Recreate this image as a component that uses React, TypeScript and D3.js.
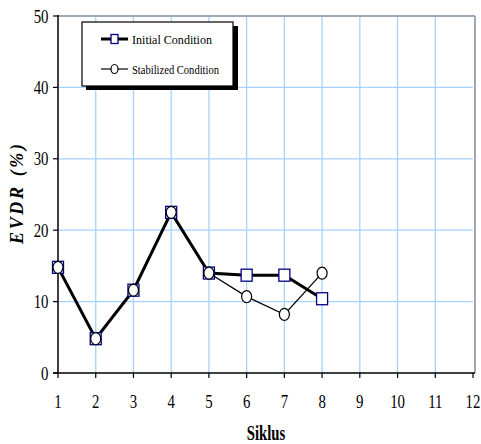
import React from "react";
import * as d3 from "d3";

const cycles = [1, 2, 3, 4, 5, 6, 7, 8];
const initialCondition = [14.8, 4.8, 11.6, 22.5, 14.0, 13.7, 13.7, 10.4];
const stabilizedCondition = [14.8, 4.8, 11.6, 22.5, 14.0, 10.7, 8.2, 14.0];
const xTicks = [1, 2, 3, 4, 5, 6, 7, 8, 9, 10, 11, 12];
const yTicks = [0, 10, 20, 30, 40, 50];
const seriesNames = ["Initial Condition", "Stabilized Condition"];

export default function App() {
  const W = 481, H = 444;
  const x = d3.scaleLinear().domain([1, 12]).range([58, 473]);
  const y = d3.scaleLinear().domain([0, 50]).range([373, 16]);
  const line = d3
    .line<number>()
    .x((_, i) => x(cycles[i]))
    .y((d) => y(d));
  const font = "Liberation Serif, Times New Roman, serif";
  const grid = "#a6d2ff";
  const sx = 0.78;

  const Square = ({ cx, cy }: { cx: number; cy: number }) => (
    <rect x={cx - 5.5} y={cy - 6} width={11} height={12} fill="white" stroke="#000080" strokeWidth={1.3} />
  );
  const Circle = ({ cx, cy }: { cx: number; cy: number }) => (
    <ellipse cx={cx} cy={cy} rx={5} ry={6} fill="white" stroke="black" strokeWidth={1.2} />
  );

  return (
    <svg width={W} height={H} style={{ position: "absolute", left: 0, top: 0, background: "white" }}>
      {yTicks.slice(1, -1).map((t) => (
        <line key={"gy" + t} x1={x(1)} x2={x(12)} y1={y(t)} y2={y(t)} stroke={grid} strokeWidth={1.3} />
      ))}
      {xTicks.slice(1, -1).map((t) => (
        <line key={"gx" + t} x1={x(t)} x2={x(t)} y1={y(50)} y2={y(0)} stroke={grid} strokeWidth={1.3} />
      ))}
      <line x1={x(1)} x2={x(12) + 2} y1={y(50)} y2={y(50)} stroke="#a0a8b8" strokeWidth={2} />
      <line x1={x(12) + 2} x2={x(12) + 2} y1={y(50)} y2={y(0)} stroke="#a0a8b8" strokeWidth={2} />
      <line x1={x(1)} x2={x(1)} y1={y(50) - 1} y2={y(0)} stroke="black" strokeWidth={1.5} />
      <line x1={x(1) - 5} x2={x(12) + 2} y1={y(0)} y2={y(0)} stroke="black" strokeWidth={1.5} />
      {yTicks.map((t) => (
        <g key={"yt" + t}>
          <line x1={x(1) - 5} x2={x(1)} y1={y(t)} y2={y(t)} stroke="black" strokeWidth={1.2} />
          <text
            transform={`translate(${x(1) - 9.5},${y(t) + 6.5}) scale(${sx},1)`}
            textAnchor="end"
            fontFamily={font}
            fontSize={19}
          >
            {t}
          </text>
        </g>
      ))}
      {xTicks.map((t) => (
        <g key={"xt" + t}>
          <line x1={x(t)} x2={x(t)} y1={y(0)} y2={y(0) + 5} stroke="black" strokeWidth={1.2} />
          <text
            transform={`translate(${x(t)},408) scale(${sx},1)`}
            textAnchor="middle"
            fontFamily={font}
            fontSize={19}
          >
            {t}
          </text>
        </g>
      ))}
      <text
        transform={`translate(266,440) scale(0.7,1)`}
        textAnchor="middle"
        fontFamily={font}
        fontSize={21}
        fontWeight="bold"
      >
        Siklus
      </text>
      <text
        transform={`translate(23,194) rotate(-90)`}
        textAnchor="middle"
        fontFamily={font}
        fontSize={18}
        fontWeight="bold"
        fontStyle="italic"
        textLength={100}
        lengthAdjust="spacing"
      >
        <tspan>EVDR</tspan>
        <tspan dx={8}>(%)</tspan>
      </text>
      <path d={line(initialCondition) || ""} fill="none" stroke="black" strokeWidth={3} />
      <path d={line(stabilizedCondition) || ""} fill="none" stroke="black" strokeWidth={1.2} />
      {initialCondition.map((v, i) => (
        <Square key={"s" + i} cx={x(cycles[i])} cy={y(v)} />
      ))}
      {stabilizedCondition.map((v, i) => (
        <Circle key={"c" + i} cx={x(cycles[i])} cy={y(v)} />
      ))}
      <rect x={86} y={26} width={152} height={64} fill="black" />
      <rect x={82} y={22} width={151} height={64} fill="white" stroke="black" strokeWidth={1.2} />
      <line x1={101} x2={128} y1={39} y2={39} stroke="black" strokeWidth={3} />
      <rect x={111} y={34.5} width={7} height={9} fill="white" stroke="#000080" strokeWidth={1.3} />
      <text x={132} y={43.5} fontFamily={font} fontSize={13.5} textLength={80} lengthAdjust="spacingAndGlyphs">
        {seriesNames[0]}
      </text>
      <line x1={101} x2={128} y1={69} y2={69} stroke="black" strokeWidth={1.2} />
      <ellipse cx={114.5} cy={69} rx={3.5} ry={4.5} fill="white" stroke="black" strokeWidth={1.2} />
      <text x={132} y={73.5} fontFamily={font} fontSize={13.5} textLength={87} lengthAdjust="spacingAndGlyphs">
        {seriesNames[1]}
      </text>
    </svg>
  );
}
